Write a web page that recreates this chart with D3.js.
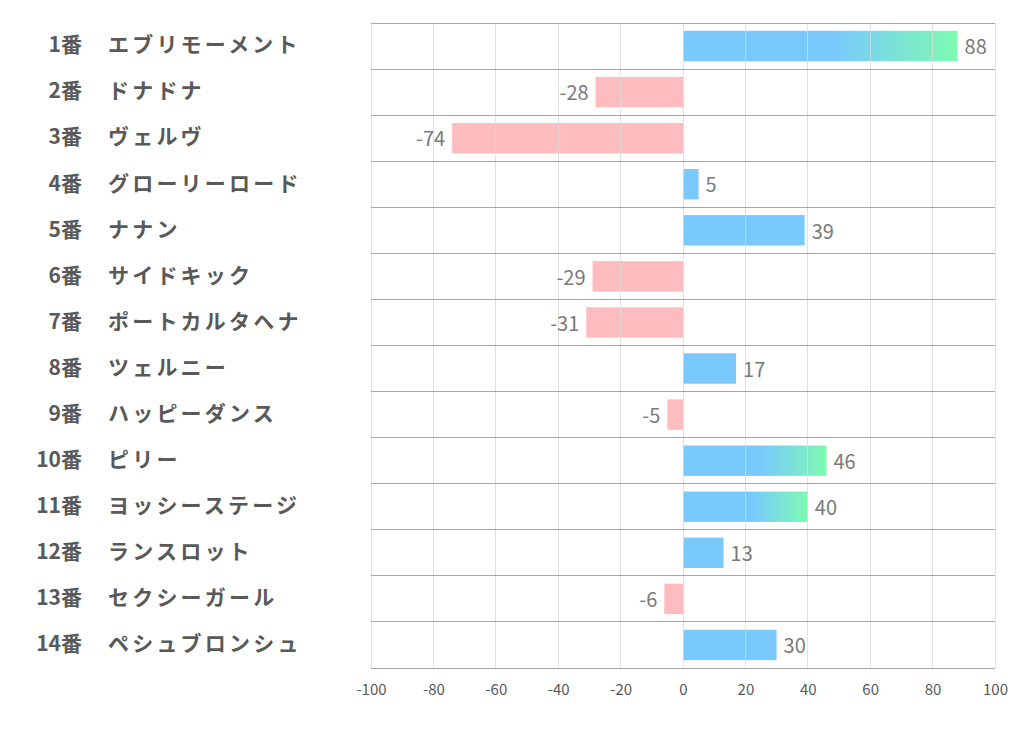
<!DOCTYPE html>
<html><head><meta charset="utf-8">
<script src="https://cdn.jsdelivr.net/npm/d3@7"></script>
<style>body{margin:0;background:#fff;}</style>
</head><body>
<svg id="c" width="1022" height="730"></svg>
<script>
const numbers = ["1番","2番","3番","4番","5番","6番","7番","8番","9番","10番","11番","12番","13番","14番"];
const names = ["エブリモーメント","ドナドナ","ヴェルヴ","グローリーロード","ナナン","サイドキック","ポートカルタヘナ","ツェルニー","ハッピーダンス","ピリー","ヨッシーステージ","ランスロット","セクシーガール","ペシュブロンシュ"];
const values = [88,-28,-74,5,39,-29,-31,17,-5,46,40,13,-6,30];
const highlighted = [true,false,false,false,false,false,false,false,false,true,true,false,false,false];
const ticks = [-100,-80,-60,-40,-20,0,20,40,60,80,100];

(function(){
const svg = d3.select("#c");
const L = 371, R = 995, T = 23, B = 668;
const x = d3.scaleLinear().domain([-100,100]).range([L,R]);
const y = d3.scaleBand().domain(d3.range(names.length)).range([T,B]).paddingInner(0.34).paddingOuter(0.17);
const rowStep = (B-T)/names.length;

const defs = svg.append("defs");
const grad = defs.append("linearGradient").attr("id","g").attr("x1","0").attr("x2","1").attr("y1","0").attr("y2","0");
grad.append("stop").attr("offset","55%").attr("stop-color","#79c9fd");
grad.append("stop").attr("offset","100%").attr("stop-color","#7dfbb1");

svg.append("g").selectAll("rect").data(values).join("rect")
  .attr("x", d => x(Math.min(0,d)))
  .attr("width", d => Math.abs(x(d)-x(0)))
  .attr("y", (d,i) => y(i))
  .attr("height", y.bandwidth())
  .attr("fill", (d,i) => d < 0 ? "#ffbcbf" : (highlighted[i] ? "url(#g)" : "#79c9fd"));

svg.append("g").selectAll("line").data(ticks).join("line")
  .attr("x1", d => x(d)).attr("x2", d => x(d))
  .attr("y1", T).attr("y2", B)
  .attr("stroke", "#d9d9d9").attr("stroke-width", 1).attr("stroke-opacity", 0.8)
  .attr("shape-rendering","crispEdges");

svg.append("g").selectAll("line").data(d3.range(names.length+1)).join("line")
  .attr("x1", L).attr("x2", R)
  .attr("y1", i => T + i*rowStep).attr("y2", i => T + i*rowStep)
  .attr("stroke", "#a6a6a6").attr("stroke-width", 1)
  .attr("shape-rendering","crispEdges");

const axis = d3.axisBottom(x).tickValues(ticks).tickFormat(d => String(d)).tickSize(0).tickPadding(16);
const ag = svg.append("g").attr("transform", `translate(0,${B})`).call(axis);
ag.select(".domain").remove();
ag.selectAll("text").attr("fill","#595959").style("font-family","'Noto Sans CJK JP', sans-serif").style("font-size","15px");

svg.append("g").selectAll("text").data(values).join("text")
  .attr("x", d => d < 0 ? x(d) - 7 : x(d) + 7)
  .attr("y", (d,i) => y(i) + y.bandwidth()/2 + 1)
  .attr("dy","0.36em")
  .attr("text-anchor", d => d < 0 ? "end" : "start")
  .attr("fill","#7a7a7a")
  .style("font-family","'Noto Sans CJK JP', sans-serif")
  .style("font-size","20px")
  .text(d => String(d));

const lab = svg.append("g").style("font-family","'Noto Sans CJK JP', sans-serif").style("font-size","21px").style("font-weight","bold").attr("fill","#595959");
lab.selectAll(".num").data(numbers).join("text").attr("class","num")
  .attr("x", 82).attr("text-anchor","end")
  .attr("y", (d,i) => T + (i+0.5)*rowStep).attr("dy","0.3em").text(d => d);
lab.selectAll(".nm").data(names).join("text").attr("class","nm")
  .attr("x", 108).attr("text-anchor","start").style("letter-spacing","3.2px")
  .attr("y", (d,i) => T + (i+0.5)*rowStep).attr("dy","0.3em").text(d => d);
})();
</script>
</body></html>
